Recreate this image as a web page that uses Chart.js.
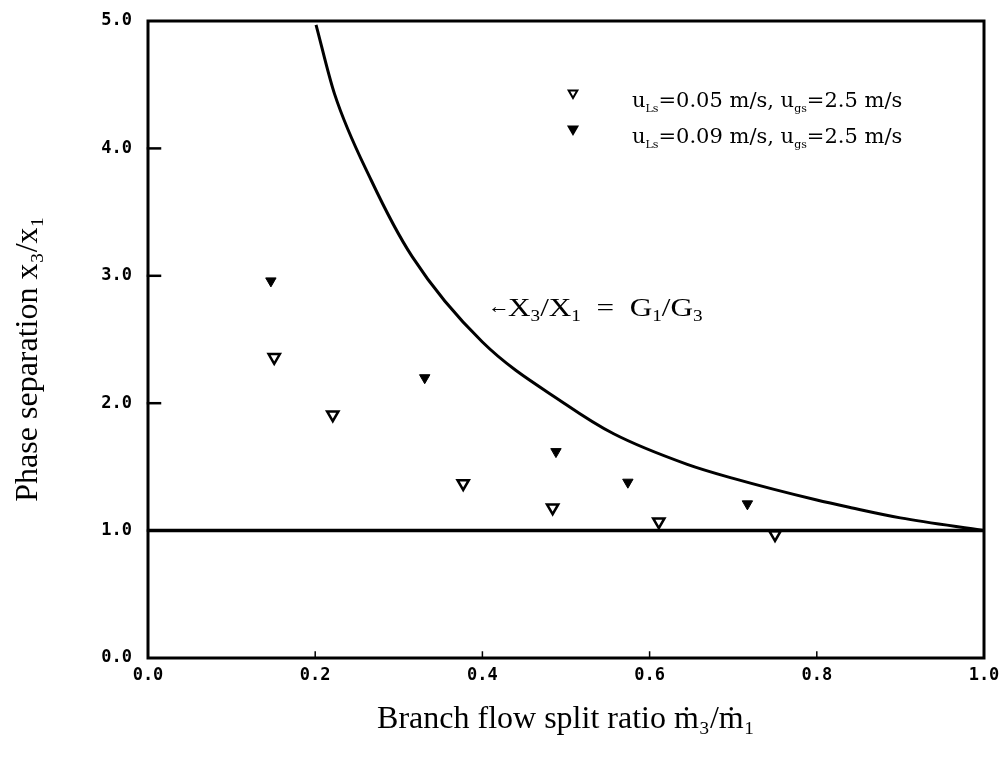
<!DOCTYPE html>
<html>
<head>
<meta charset="utf-8">
<script src="https://cdn.jsdelivr.net/npm/chart.js@4.4.1/dist/chart.umd.min.js"></script>
<style>
  html, body { margin: 0; padding: 0; background: #ffffff; }
  #wrap { width: 1005px; height: 759px; }
</style>
</head>
<body>
<div id="wrap"><canvas id="chart" width="1005" height="759"></canvas></div>
<script>
// Axis ticks
const xTickValues = [0, 0.2, 0.4, 0.6, 0.8, 1.0];
const yTickValues = [0, 1, 2, 3, 4, 5];

// u_Ls = 0.05 m/s, u_gs = 2.5 m/s (open triangles)
const lowLiquidSplit = [0.151, 0.221, 0.377, 0.484, 0.611, 0.750];
const lowLiquidSeparation = [2.36, 1.91, 1.37, 1.18, 1.07, 0.97];

// u_Ls = 0.09 m/s, u_gs = 2.5 m/s (filled triangles)
const highLiquidSplit = [0.147, 0.331, 0.488, 0.574, 0.717];
const highLiquidSeparation = [2.96, 2.20, 1.62, 1.38, 1.21];

// X3/X1 = G1/G3 limit curve
const limitSplit = [0.201, 0.223, 0.267, 0.316, 0.40, 0.50, 0.557, 0.645, 0.70, 0.80, 0.841, 0.90, 1.00];
const limitSeparation = [4.97, 4.43, 3.75, 3.15, 2.48, 1.99, 1.76, 1.52, 1.41, 1.24, 1.18, 1.10, 1.00];

// No-separation line x3/x1 = 1
const unitSplit = [0, 1];
const unitSeparation = [1, 1];

const legendEntries = [
  { filled: false, parts: [['u', 0], ['Ls', 1], ['=0.05 m/s, u', 0], ['gs', 1], ['=2.5 m/s', 0]] },
  { filled: true,  parts: [['u', 0], ['Ls', 1], ['=0.09 m/s, u', 0], ['gs', 1], ['=2.5 m/s', 0]] }
];

const curveLabel = [['X', 0], ['3', 1], ['/X', 0], ['1', 1], ['  =  G', 0], ['1', 1], ['/G', 0], ['3', 1]];

const yTitle = 'Phase separation x\u2083/x\u2081';
const xTitle = 'Branch flow split ratio \u1E41\u2083/\u1E41\u2081';

const toPoints = (xs, ys) => xs.map((x, i) => ({ x: x, y: ys[i] }));

const SERIF = '"Liberation Serif", "Times New Roman", serif';
const WIDE_SERIF = '"DejaVu Serif", serif';
const MONO = '"DejaVu Sans Mono", monospace';

// Text runs with lowered, smaller subscripts; sx stretches the run horizontally
function drawRich(ctx, x, y, parts, family, size, subSize, subDrop, sx) {
  ctx.save();
  ctx.translate(x, y);
  ctx.scale(sx || 1, 1);
  let cx = 0;
  parts.forEach(([txt, sub]) => {
    ctx.font = (sub ? subSize : size) + 'px ' + family;
    ctx.fillText(txt, cx, sub ? subDrop : 0);
    cx += ctx.measureText(txt).width;
  });
  ctx.restore();
}

const decorations = {
  id: 'decorations',
  afterDatasetsDraw(chart) {
    const { ctx, chartArea: a, scales } = chart;
    ctx.save();
    ctx.strokeStyle = '#000';
    ctx.fillStyle = '#000';
    ctx.lineCap = 'square';

    // frame
    ctx.lineWidth = 3;
    ctx.strokeRect(a.left, a.top, a.right - a.left, a.bottom - a.top);

    // inward tick marks
    ctx.lineWidth = 2.5;
    yTickValues.slice(1, -1).forEach(v => {
      const py = scales.y.getPixelForValue(v);
      ctx.beginPath(); ctx.moveTo(a.left, py); ctx.lineTo(a.left + 12, py); ctx.stroke();
    });
    ctx.lineWidth = 1.5;
    xTickValues.slice(1, -1).forEach(v => {
      const px = scales.x.getPixelForValue(v);
      ctx.beginPath(); ctx.moveTo(px, a.bottom); ctx.lineTo(px, a.bottom - 6); ctx.stroke();
    });

    // y axis title
    ctx.save();
    ctx.translate(29, 359);
    ctx.rotate(-Math.PI / 2);
    ctx.textAlign = 'center';
    ctx.textBaseline = 'middle';
    ctx.font = '32px ' + SERIF;
    ctx.fillText(yTitle, 0, 0);
    ctx.restore();

    // legend
    ctx.textBaseline = 'alphabetic';
    ctx.textAlign = 'left';
    legendEntries.forEach((e, i) => {
      const my = 93 + i * 36;
      ctx.fillStyle = e.filled ? '#000' : '#fff';
      ctx.strokeStyle = '#000';
      ctx.lineWidth = 2;
      Chart.helpers.drawPoint(ctx, { pointStyle: 'triangle', rotation: 180, radius: 5, borderWidth: 2 }, 573, my);
      ctx.fillStyle = '#000';
      drawRich(ctx, 632, 107 + i * 36, e.parts, WIDE_SERIF, 21, 11, 5, 1);
    });

    // limit curve label
    ctx.font = 'bold 22px ' + SERIF;
    ctx.fillText('\u2190', 488, 313);
    drawRich(ctx, 508, 316, curveLabel, SERIF, 26, 16, 5, 1.2);
    ctx.restore();
  }
};

new Chart(document.getElementById('chart'), {
  type: 'scatter',
  data: {
    datasets: [
      {
        type: 'line',
        data: toPoints(limitSplit, limitSeparation),
        borderColor: '#000', borderWidth: 3,
        pointRadius: 0, fill: false,
        cubicInterpolationMode: 'monotone'
      },
      {
        type: 'line',
        data: toPoints(unitSplit, unitSeparation),
        borderColor: '#000', borderWidth: 3.5,
        pointRadius: 0, fill: false
      },
      {
        data: toPoints(lowLiquidSplit, lowLiquidSeparation),
        pointStyle: 'triangle', rotation: 180,
        pointRadius: 6.5, pointBorderWidth: 2.5,
        backgroundColor: '#fff', borderColor: '#000'
      },
      {
        data: toPoints(highLiquidSplit, highLiquidSeparation),
        pointStyle: 'triangle', rotation: 180,
        pointRadius: 6, pointBorderWidth: 1,
        backgroundColor: '#000', borderColor: '#000'
      }
    ]
  },
  options: {
    responsive: false,
    animation: false,
    events: [],
    layout: { padding: { left: 0, top: 21, right: 21, bottom: 0 } },
    plugins: { legend: { display: false }, tooltip: { enabled: false } },
    scales: {
      x: {
        type: 'linear', min: 0, max: 1,
        afterBuildTicks: s => { s.ticks = xTickValues.map(v => ({ value: v })); },
        afterFit: s => { s.height = 101; s.paddingLeft = 0; s.paddingRight = 0; },
        grid: { display: false, drawTicks: false },
        border: { display: false },
        ticks: {
          padding: 7, color: '#000',
          font: { family: MONO, size: 17, weight: 'bold' },
          callback: v => Number(v).toFixed(1), maxRotation: 0
        },
        title: {
          display: true, text: xTitle,
          color: '#000', font: { family: SERIF, size: 32 },
          padding: { top: 0, bottom: 20 }
        }
      },
      y: {
        type: 'linear', min: 0, max: 5,
        afterBuildTicks: s => { s.ticks = yTickValues.map(v => ({ value: v })); },
        afterFit: s => { s.width = 148; s.paddingTop = 0; s.paddingBottom = 0; },
        grid: { display: false, drawTicks: false },
        border: { display: false },
        ticks: {
          padding: 16, color: '#000',
          font: { family: MONO, size: 17, weight: 'bold' },
          callback: v => Number(v).toFixed(1)
        },
        title: { display: false }
      }
    }
  },
  plugins: [decorations]
});
</script>
</body>
</html>
